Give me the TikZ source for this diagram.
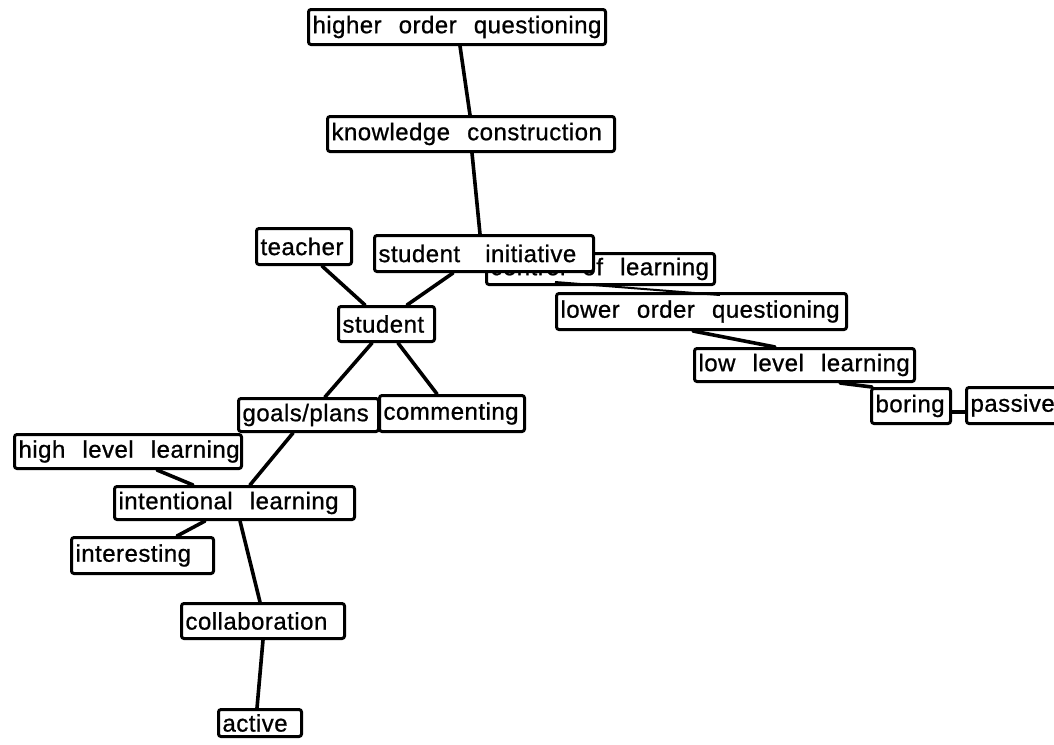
\documentclass[tikz,border=0pt]{standalone}
\usepackage{fontspec}
\setmainfont{Liberation Sans}[WordSpace=2.4, LetterSpace=2, FakeBold=0.8]
\newcommand\boxlabel[2]{\hbox to #1pt{\hspace{4pt}\raisebox{-2pt}{#2}\hss}}
\begin{document}
\begin{tikzpicture}[x=1pt, y=-1pt,
  concept/.style={draw, line width=3pt, rounded corners=2.5pt, fill=white,
    inner sep=0pt, anchor=north west, font=\fontsize{24}{26}\selectfont},
  link/.style={line width=3.6pt, line cap=round}]
\useasboundingbox (0,0) rectangle (1054,744);
\clip (0,0) rectangle (1054,744);

% upper chain
\node[concept, minimum height=35] (hoq) at (307,8) {\boxlabel{297}{higher order questioning}};
\node[concept, minimum height=35] (kc) at (326,115) {\boxlabel{287}{knowledge construction}};
\node[concept, minimum height=36] (teacher) at (255,227) {\boxlabel{95}{teacher}};
\node[concept, minimum height=31] (col) at (485,252) {\boxlabel{228}{control of learning}};
\node[concept, minimum height=36] (si) at (373,234) {\boxlabel{219}{student\hspace{8pt} initiative}};
\node[concept, minimum height=35] (student) at (337,305) {\boxlabel{96}{student}};

% right branch
\node[concept, minimum height=36] (loq) at (555,292) {\boxlabel{290}{lower order questioning}};
\node[concept, minimum height=33] (llw) at (693,347) {\boxlabel{220}{low level learning}};
\node[concept, minimum height=35] (boring) at (870,387) {\boxlabel{79}{boring}};
\node[concept, minimum height=36] (passive) at (965,386) {\boxlabel{115}{passive}};

% left branch
\node[concept, minimum height=33] (goals) at (237,397) {\boxlabel{140}{goals/plans}};
\node[concept, minimum height=36] (comm) at (378,394) {\boxlabel{145}{commenting}};
\node[concept, minimum height=34] (hll) at (13,433) {\boxlabel{227}{high level learning}};
\node[concept, minimum height=33] (intl) at (113,485) {\boxlabel{240}{intentional learning}};
\node[concept, minimum height=36] (inter) at (70,536) {\boxlabel{142}{interesting}};
\node[concept, minimum height=35] (collab) at (180,602) {\boxlabel{163}{collaboration}};
\node[concept, minimum height=27] (active) at (217,708) {\boxlabel{83}{active}};

% connectors
\draw[link] ([xshift=153]hoq.south west) -- ([xshift=144]kc.north west);
\draw[link] ([xshift=146]kc.south west) -- ([xshift=107]si.north west);
\draw[link] ([xshift=67]teacher.south west) -- ([xshift=28]student.north west);
\draw[link] ([xshift=80]si.south west) -- ([xshift=70]student.north west);
\draw[line width=2pt] ([xshift=70,yshift=4]col.south west) -- ([xshift=165,yshift=-3]loq.north west);
\draw[link] ([xshift=138]loq.south west) -- ([xshift=82]llw.north west);
\draw[link] ([xshift=147]llw.south west) -- ([xshift=2]boring.north west);
\draw[link] ([yshift=-6]boring.east) -- ([yshift=-6]boring.east -| passive.west);
\draw[link] ([xshift=35]student.south west) -- ([xshift=88]goals.north west);
\draw[link] ([xshift=61]student.south west) -- ([xshift=59]comm.north west);
\draw[link] ([xshift=56]goals.south west) -- ([xshift=137]intl.north west);
\draw[link] ([xshift=144]hll.south west) -- ([xshift=80]intl.north west);
\draw[link] ([xshift=92]intl.south west) -- ([xshift=107]inter.north west);
\draw[link] ([xshift=127]intl.south west) -- ([xshift=80]collab.north west);
\draw[link] ([xshift=83]collab.south west) -- ([xshift=40]active.north west);
\end{tikzpicture}
\end{document}
